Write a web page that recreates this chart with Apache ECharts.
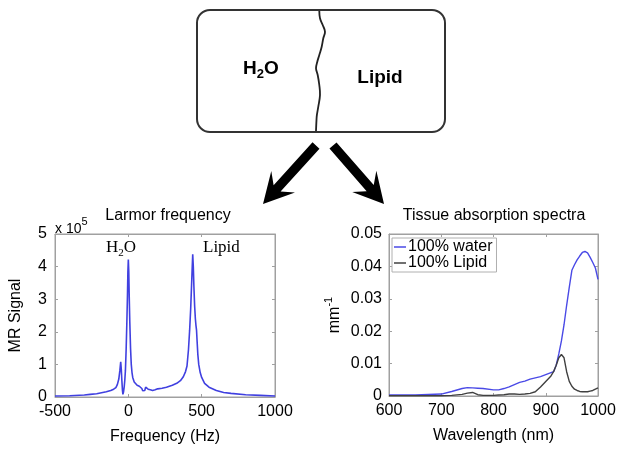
<!DOCTYPE html>
<html><head><meta charset="utf-8">
<script src="https://cdn.jsdelivr.net/npm/echarts@6/dist/echarts.min.js"></script>
<style>html,body{margin:0;padding:0;background:#fff}#c{width:625px;height:457px}</style>
</head><body><div id="c"></div>
<script>
// ---- Left chart: MR spectrum (signal in units of 1e5) ----
const freqHz = [-500,-400,-300,-260,-216,-150,-120,-100,-85,-75,-65,-58,-52,-48,-44,-40,-37,-33,-28,-24,-20,-15,-10,-6,-3,0,3,6,10,15,20,25,30,40,50,60,75,85,92,98,105,112,118,125,135,150,165,178,183,190,200,230,260,300,330,355,375,390,400,410,418,425,430,435,439,443,447,452,457,461,465,469,474,480,490,500,520,550,600,650,700,800,900,1000];
const mrSignal = [0.03,0.04,0.06,0.08,0.1,0.16,0.2,0.24,0.29,0.38,0.55,0.8,1.08,0.85,0.5,0.2,0.08,0.15,0.32,0.52,0.8,1.45,2.3,3.1,3.85,4.22,3.85,3.1,2.3,1.5,1.0,0.75,0.6,0.46,0.4,0.36,0.33,0.32,0.26,0.19,0.18,0.2,0.3,0.28,0.24,0.22,0.2,0.17,0.22,0.25,0.25,0.27,0.3,0.36,0.42,0.5,0.62,0.78,0.95,1.45,2.05,2.7,3.3,3.9,4.38,4.0,3.4,2.8,2.4,2.2,2.05,1.7,1.3,1.0,0.75,0.6,0.42,0.3,0.2,0.14,0.11,0.07,0.05,0.03];
const freqTicks = {min:-500,max:1000,interval:500};
const signalTicks = {min:0,max:5,interval:1};

// ---- Right chart: tissue absorption spectra (mm^-1) ----
const wavelengthNm = [600,650,700,720,740,750,760,770,780,800,810,820,830,840,850,860,870,880,890,900,910,915,920,925,930,935,940,945,950,955,960,965,970,975,980,985,990,995,1000];
const waterAbs = [0.0003,0.0003,0.0006,0.0014,0.0023,0.0026,0.0025,0.0024,0.0023,0.0019,0.0019,0.0023,0.0028,0.0035,0.0042,0.0046,0.0052,0.0056,0.006,0.0066,0.0072,0.0075,0.0095,0.013,0.017,0.022,0.028,0.0335,0.0388,0.0405,0.042,0.0432,0.0443,0.0446,0.0442,0.0428,0.0412,0.0395,0.036];
const lipidAbs = [0.0001,0.0001,0.0001,0.0002,0.0005,0.0009,0.0011,0.0004,0.0002,0.0002,0.0003,0.0004,0.0006,0.0006,0.0005,0.0006,0.0008,0.0013,0.0028,0.0045,0.0062,0.0075,0.0095,0.0118,0.0128,0.0118,0.0075,0.0045,0.003,0.0021,0.0017,0.0014,0.0013,0.0013,0.0013,0.0015,0.0017,0.0021,0.0025];
const seriesNames = ['100% water','100% Lipid'];
const waveTicks = {min:600,max:1000,interval:100};
const absTicks = {min:0,max:0.05,interval:0.01};

const FONT = 'Liberation Sans, Arial, sans-serif';
const SERIF = 'Liberation Serif, Times New Roman, serif';
const FRAME = '#a0a0a0';

function zip(xs, ys){ return xs.map((x,i)=>[x, ys[i]]); }

function axisBase(extra){
  return Object.assign({
    type:'value', scale:false,
    axisLine:{show:true, onZero:false, lineStyle:{color:FRAME, width:1}},
    axisTick:{show:true, inside:true, length:3, lineStyle:{color:FRAME}},
    splitLine:{show:false},
    axisLabel:{color:'#000', fontSize:16, fontFamily:FONT}
  }, extra);
}

function arrow(tip, tail, shaftHalf, headLen, headHalf, notch){
  const dx = tail[0]-tip[0], dy = tail[1]-tip[1];
  const L = Math.hypot(dx,dy); const ux = dx/L, uy = dy/L; const px = -uy, py = ux;
  const B = [tip[0]+ux*headLen, tip[1]+uy*headLen];
  const N = [tip[0]+ux*(headLen-notch), tip[1]+uy*(headLen-notch)];
  return [
    tip,
    [B[0]+px*headHalf, B[1]+py*headHalf],
    [N[0]+px*shaftHalf, N[1]+py*shaftHalf],
    [tail[0]+px*shaftHalf, tail[1]+py*shaftHalf],
    [tail[0]-px*shaftHalf, tail[1]-py*shaftHalf],
    [N[0]-px*shaftHalf, N[1]-py*shaftHalf],
    [B[0]-px*headHalf, B[1]-py*headHalf]
  ];
}

const plainNum = v => String(v);

const chart = echarts.init(document.getElementById('c'), null, {renderer:'canvas'});
chart.setOption({
  animation:false,
  backgroundColor:'#fff',
  grid:[
    {left:55, top:234, width:220, height:163, show:true, borderColor:FRAME, borderWidth:1, backgroundColor:'#fff'},
    {left:389, top:234, width:209, height:162, show:true, borderColor:FRAME, borderWidth:1, backgroundColor:'#fff'}
  ],
  xAxis:[
    axisBase(Object.assign({gridIndex:0, position:'bottom', name:'Frequency (Hz)', nameLocation:'middle', nameGap:32,
      nameTextStyle:{color:'#000', fontSize:16, fontFamily:FONT},
      axisLabel:{color:'#000', fontSize:16, fontFamily:FONT, margin:7, formatter:plainNum}}, freqTicks)),
    axisBase(Object.assign({gridIndex:1, position:'bottom', name:'Wavelength (nm)', nameLocation:'middle', nameGap:32,
      nameTextStyle:{color:'#000', fontSize:16, fontFamily:FONT},
      axisLabel:{color:'#000', fontSize:16, fontFamily:FONT, margin:7, formatter:plainNum}}, waveTicks)),
    axisBase(Object.assign({gridIndex:0, position:'top', axisLabel:{show:false}}, freqTicks)),
    axisBase(Object.assign({gridIndex:1, position:'top', axisLabel:{show:false}}, waveTicks))
  ],
  yAxis:[
    axisBase(Object.assign({gridIndex:0, position:'left', name:'MR Signal', nameLocation:'middle', nameGap:31,
      nameTextStyle:{color:'#000', fontSize:16, fontFamily:FONT},
      axisLabel:{color:'#000', fontSize:16, fontFamily:FONT, margin:8, formatter:plainNum}}, signalTicks)),
    axisBase(Object.assign({gridIndex:1, position:'left', name:'{m|mm}{s|-1}', nameLocation:'middle', nameGap:46,
      nameTextStyle:{color:'#000', fontSize:16, fontFamily:FONT,
        rich:{m:{fontSize:16, fontFamily:FONT, lineHeight:20, verticalAlign:'bottom'}, s:{fontSize:11, fontFamily:FONT, lineHeight:20, verticalAlign:'top'}}},
      axisLabel:{color:'#000', fontSize:16, fontFamily:FONT, margin:7, formatter:v=> v===0?'0':v.toFixed(2)}}, absTicks)),
    axisBase(Object.assign({gridIndex:0, position:'right', axisLabel:{show:false}}, signalTicks)),
    axisBase(Object.assign({gridIndex:1, position:'right', axisLabel:{show:false}}, absTicks))
  ],
  legend:{
    data:seriesNames, orient:'vertical', left:392, top:238, itemGap:0,
    icon:'rect', itemWidth:12, itemHeight:1.5,
    padding:[1,4,1,2], borderColor:'#b0b0b0', borderWidth:1, backgroundColor:'#fff',
    textStyle:{color:'#000', fontSize:16, fontFamily:FONT, lineHeight:15, padding:[0,0,0,-3]}
  },
  series:[
    {name:'MR Signal', type:'line', xAxisIndex:0, yAxisIndex:0, data:zip(freqHz, mrSignal), showSymbol:false,
      lineStyle:{color:'#4040e0', width:1.6}, itemStyle:{color:'#4040e0'}},
    {name:seriesNames[0], type:'line', xAxisIndex:1, yAxisIndex:1, data:zip(wavelengthNm, waterAbs), showSymbol:false,
      lineStyle:{color:'#4a4ae6', width:1.4}, itemStyle:{color:'#4a4ae6'}},
    {name:seriesNames[1], type:'line', xAxisIndex:1, yAxisIndex:1, data:zip(wavelengthNm, lipidAbs), showSymbol:false,
      lineStyle:{color:'#404040', width:1.4}, itemStyle:{color:'#404040'}}
  ],
  graphic:[
    {type:'rect', shape:{x:197, y:10, width:248, height:122, r:13}, style:{fill:'#fff', stroke:'#333', lineWidth:2}},
    {type:'polyline', shape:{smooth:0.4, points:[[319.3,11],[320,18.3],[322.7,25],[325,31.7],[323.3,38.3],[321.7,46.7],[319.3,55],[317.3,61.7],[316,68.3],[317.7,75],[319.3,85],[320,95],[318.3,106.7],[316.7,116.7],[316,131]]},
      style:{fill:null, stroke:'#222', lineWidth:1.8}},
    {type:'text', x:243, y:69, style:{text:'{b|H}{s|2}{b|O}', verticalAlign:'middle',
      rich:{b:{fontSize:19, fontWeight:'bold', fontFamily:FONT, lineHeight:24, verticalAlign:'middle', fill:'#000'},
            s:{fontSize:13, fontWeight:'bold', fontFamily:FONT, lineHeight:13, verticalAlign:'bottom', fill:'#000'}}}},
    {type:'text', x:380, y:78, style:{text:'Lipid', align:'center', verticalAlign:'middle', fontSize:19, fontWeight:'bold', fontFamily:FONT, fill:'#000'}},
    {type:'polygon', shape:{points:arrow([263,204],[316,145.5],4.7,30,16,9)}, style:{fill:'#000'}},
    {type:'polygon', shape:{points:arrow([384,204],[333,145.5],4.7,30,16,9)}, style:{fill:'#000'}},
    {type:'text', x:168, y:216, style:{text:'Larmor frequency', align:'center', verticalAlign:'middle', fontSize:16, fontFamily:FONT, fill:'#000'}},
    {type:'text', x:494, y:216, style:{text:'Tissue absorption spectra', align:'center', verticalAlign:'middle', fontSize:16, fontFamily:FONT, fill:'#000'}},
    {type:'text', x:55, y:226, style:{text:'{n|x 10}{p|5}', verticalAlign:'middle',
      rich:{n:{fontSize:14, fontFamily:FONT, lineHeight:20, verticalAlign:'bottom', fill:'#000'}, p:{fontSize:11, fontFamily:FONT, lineHeight:20, verticalAlign:'top', fill:'#000'}}}},
    {type:'text', x:106, y:248, style:{text:'{b|H}{s|2}{b|O}', verticalAlign:'middle',
      rich:{b:{fontSize:17, fontFamily:SERIF, lineHeight:22, verticalAlign:'middle', fill:'#000'},
            s:{fontSize:11, fontFamily:SERIF, lineHeight:11, verticalAlign:'bottom', fill:'#000'}}}},
    {type:'text', x:203, y:248, style:{text:'Lipid', verticalAlign:'middle', fontSize:17, fontFamily:SERIF, fill:'#000'}}
  ]
});
</script></body></html>
